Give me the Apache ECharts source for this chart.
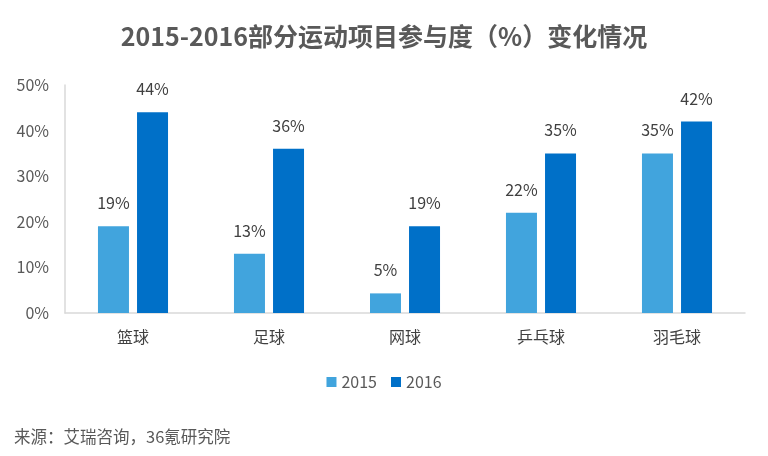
<!DOCTYPE html>
<html><head><meta charset="utf-8">
<script src="https://cdn.jsdelivr.net/npm/echarts@6/dist/echarts.min.js"></script>
<style>html,body{margin:0;padding:0;background:#fff}#c{width:768px;height:456px}</style>
</head><body><div id="c"></div>
<script>
const categories = ['篮球','足球','网球','乒乓球','羽毛球'];
const values2015 = [19, 13, 4.3, 22, 35];
const values2016 = [44, 36, 19, 35, 42];
const labels2015 = ['19%','13%','5%','22%','35%'];
const labels2016 = ['44%','36%','19%','35%','42%'];
const yTicks = [0,10,20,30,40,50];

const font = '"Noto Sans CJK SC","Noto Sans",sans-serif';
const chart = echarts.init(document.getElementById('c'));
function mkLabel(arr){
  return {show:true, position:'top', distance:15, fontSize:16, color:'#404040', fontFamily:font,
    formatter:p=>arr[p.dataIndex]};
}
chart.setOption({
  animation:false,
  title:{text:'2015-2016部分运动项目参与度（%）变化情况', left:'center', top:19,
    textStyle:{fontSize:25, fontWeight:'bold', color:'#595959', fontFamily:font}},
  grid:{left:65, right:23, top:85, bottom:143, containLabel:false},
  legend:{bottom:61, left:'center', itemWidth:10, itemHeight:10, itemGap:14, icon:'rect',
    textStyle:{fontSize:16, color:'#595959', fontFamily:font}, data:['2015','2016']},
  xAxis:{type:'category', data:categories,
    axisLine:{lineStyle:{color:'#d9d9d9', width:1.5}}, axisTick:{show:false},
    axisLabel:{fontSize:16, color:'#404040', margin:16, fontFamily:font}},
  yAxis:{type:'value', min:yTicks[0], max:yTicks[yTicks.length-1], interval:10,
    axisLine:{show:true, lineStyle:{color:'#d9d9d9', width:1.5}}, axisTick:{show:false},
    splitLine:{show:false},
    axisLabel:{fontSize:16, color:'#595959', margin:16, fontFamily:font, formatter:v=>v+'%'}},
  series:[
    {name:'2015', type:'bar', data:values2015, barWidth:31, barGap:'26%',
     itemStyle:{color:'#41A4DD'}, label:mkLabel(labels2015)},
    {name:'2016', type:'bar', data:values2016, barWidth:31,
     itemStyle:{color:'#0070C8'}, label:mkLabel(labels2016)}
  ],
  graphic:[{type:'text', left:14, top:428,
    style:{text:'来源：艾瑞咨询，36氪研究院', fontSize:16.5, fill:'#595959', fontFamily:font}}]
});
</script></body></html>
